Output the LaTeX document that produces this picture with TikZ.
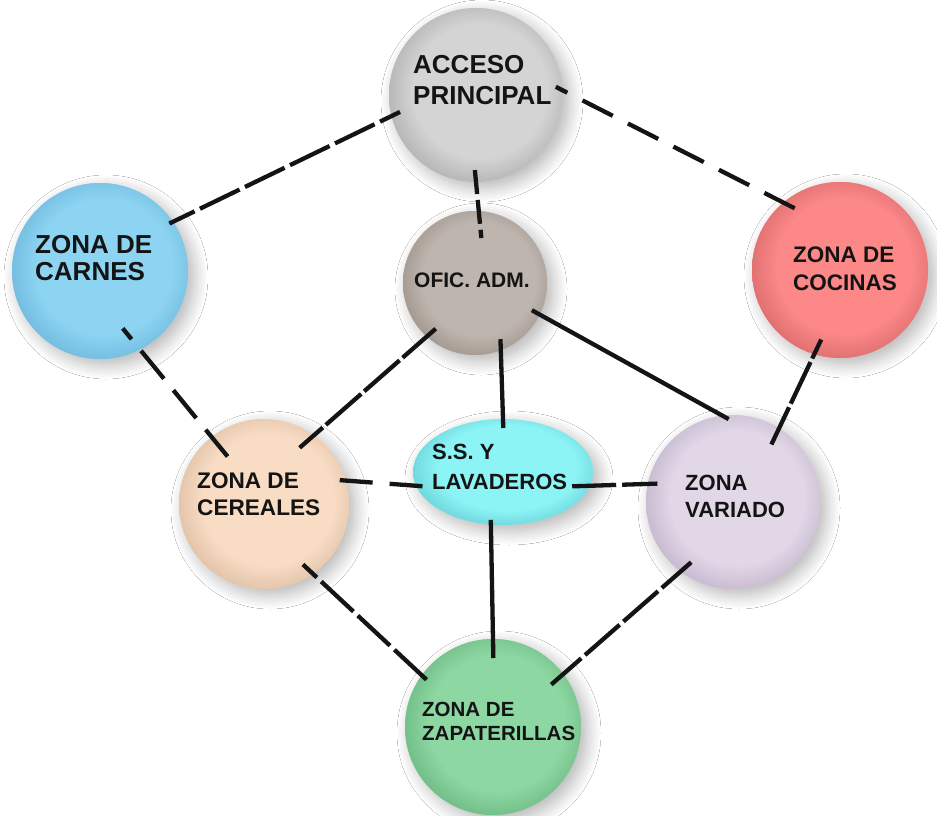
\documentclass[tikz,border=0pt]{standalone}
\usepackage{fontspec}
\setmainfont{Liberation Sans}
\usetikzlibrary{shapes.geometric,shadows.blur}

% colours of the zones: fill and darker rim
\definecolor{accF}{HTML}{D4D4D4}\definecolor{accR}{HTML}{B6B6B6}
\definecolor{carF}{HTML}{8DD4F2}\definecolor{carR}{HTML}{74BDE0}
\definecolor{ofiF}{HTML}{BEB5AE}\definecolor{ofiR}{HTML}{A49A92}
\definecolor{cocF}{HTML}{FC8888}\definecolor{cocR}{HTML}{E07070}
\definecolor{cerF}{HTML}{F8DCC4}\definecolor{cerR}{HTML}{E2C4A9}
\definecolor{ssF}{HTML}{8CF4F4}\definecolor{ssR}{HTML}{70D8DE}
\definecolor{varF}{HTML}{E1D7E7}\definecolor{varR}{HTML}{C8BAD0}
\definecolor{zapF}{HTML}{8DD7A2}\definecolor{zapR}{HTML}{72BE88}
\definecolor{ink}{HTML}{141414}

\colorlet{ballbase}{white}\colorlet{ballrim}{gray}
% flat centre that darkens towards the rim
\pgfdeclareradialshading[ballbase,ballrim]{rimshade}{\pgfpoint{0bp}{0bp}}%
  {color(0bp)=(ballbase); color(18bp)=(ballbase); color(25bp)=(ballrim); color(50bp)=(ballrim)}

\tikzset{
  ballshadow/.style={blur shadow={shadow xshift=6pt, shadow yshift=-6pt,
      shadow blur radius=14pt, shadow blur steps=14, shadow opacity=30}},
  ballnode/.style={inner sep=0pt, outer sep=0pt},
  conn/.style={line width=4.3pt, ink},
  lbl/.style={inner sep=0pt, anchor=north west, align=left, text=ink},
}

% name, x, y, radius, fill, rim
\newcommand\drawball[6]{%
  \colorlet{ballbase}{#5}\colorlet{ballrim}{#6}%
  \fill[ballshadow, ballbase] (#2,#3) circle[radius=#4];
  \begin{scope}
    \clip (#2,#3) circle[radius=#4];
    \shade[shading=rimshade] (#2+4,#3-4) circle[radius=#4+6];
  \end{scope}
  \node[ballnode, circle, minimum size=2*#4] (#1) at (#2,#3) {};
}

\begin{document}
\begin{tikzpicture}[x=1pt, y=-1pt]
\useasboundingbox (0,0) rectangle (937,816);
\fill[white] (0,0) rectangle (937,816);

% zones
\drawball{acc}{476}{95}{87}{accF}{accR}
\drawball{car}{100}{271}{88}{carF}{carR}
\drawball{ofi}{475}{283}{72}{ofiF}{ofiR}
\drawball{coc}{840}{270}{88}{cocF}{cocR}
\drawball{cer}{264}{504}{85}{cerF}{cerR}
\drawball{var}{733}{502}{87}{varF}{varR}
\drawball{zap}{493}{727}{88}{zapF}{zapR}

% washrooms (ellipse)
\colorlet{ballbase}{ssF}\colorlet{ballrim}{ssR}
\fill[ballshadow, ballbase] (503,472) ellipse[x radius=90, y radius=53];
\begin{scope}
  \clip (503,472) ellipse[x radius=90, y radius=53];
  \shade[shading=rimshade] (507,468) ellipse[x radius=96, y radius=59];
\end{scope}
\node[ballnode, ellipse, minimum width=180, minimum height=106] (ss) at (503,472) {};

% connections
\draw[conn, dash pattern=on 44pt off 6pt, dash phase=16pt, shorten <=-4pt, shorten >=-9.4pt] (car.34.8) -- (acc.194.9);
\draw[conn, dash pattern=on 34pt off 17pt, dash phase=21pt, shorten <=-8pt, shorten >=-15.7pt] (acc.3.6) -- (coc.130.5);
\draw[conn, dash pattern=on 24pt off 6pt, shorten <=-12pt, shorten >=-27pt] (acc.270.8) -- (ofi.87.5);
\draw[conn, dash pattern=on 36pt off 15pt, dash phase=22pt, shorten <=-27.2pt, shorten >=-25.2pt] (car.297.4) -- (cer.128.2);
\draw[conn, dash pattern=on 47pt off 4pt, dash phase=3pt, shorten <=-11.8pt, shorten >=-19pt] (ofi.228.4) -- (cer.54.9);
\draw[conn, shorten <=-11pt, shorten >=-9pt] (ofi.291.1) -- (ss.90);
\draw[conn, shorten <=-9pt, shorten >=-7.2pt] (ofi.334.7) -- (var.97.9);
\draw[conn, dash pattern=on 46pt off 4pt, dash phase=25pt, shorten <=-16.2pt, shorten >=-18pt] (coc.253.8) -- (var.58.6);
\draw[conn, dash pattern=on 33pt off 17pt, shorten <=-6pt, shorten >=-11pt] (cer.16.1) -- (ss.189);
\draw[conn, dash pattern=on 44pt off 6pt, shorten <=-17.7pt, shorten >=-9.5pt] (ss.351.9) -- (var.168.8);
\draw[conn, shorten <=-4.7pt, shorten >=-19pt] (ss.257.1) -- (zap.90.8);
\draw[conn, dash pattern=on 44pt off 6pt, dash phase=25pt, shorten <=-13.4pt, shorten >=-8.4pt] (cer.305.9) -- (zap.144.7);
\draw[conn, dash pattern=on 46pt off 5pt, dash phase=7pt, shorten <=-14pt, shorten >=-16pt] (var.233.9) -- (zap.37.7);

% labels
\node[lbl, font=\bfseries\fontsize{26}{31}\selectfont] (acc-t) at (413,55) {ACCESO\\PRINCIPAL};
\node[lbl, font=\bfseries\fontsize{26}{27}\selectfont] (car-t) at (35,235) {ZONA DE\\CARNES};
\node[lbl, font=\bfseries\fontsize{21}{25}\selectfont] (ofi-t) at (414,273) {OFIC. ADM.};
\node[lbl, font=\bfseries\fontsize{22.5}{28}\selectfont] (coc-t) at (793,247) {ZONA DE\\COCINAS};
\node[lbl, font=\bfseries\fontsize{22.6}{27}\selectfont] (cer-t) at (197,473) {ZONA DE\\CEREALES};
\node[lbl, font=\bfseries\fontsize{22}{30}\selectfont] (ss-t) at (432,444) {S.S. Y\\LAVADEROS};
\node[lbl, font=\bfseries\fontsize{22}{27}\selectfont] (var-t) at (685,475) {ZONA\\VARIADO};
\node[lbl, font=\bfseries\fontsize{20.5}{24}\selectfont] (zap-t) at (422,702) {ZONA DE\\ZAPATERILLAS};
\end{tikzpicture}
\end{document}
